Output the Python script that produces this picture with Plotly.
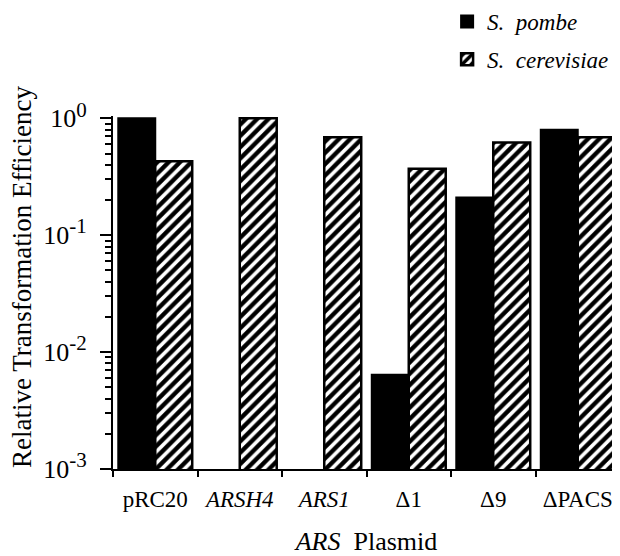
import plotly.graph_objects as go

categories = ["pRC20", "<i>ARSH4</i>", "<i>ARS1</i>", "Δ1", "Δ9", "ΔPACS"]
s_pombe = [1.0, None, None, 0.0064, 0.21, 0.80]
s_cerevisiae = [0.43, 1.0, 0.69, 0.37, 0.62, 0.69]
ytick_vals = [1e-3, 1e-2, 1e-1, 1]
ytick_exp = ["-3", "-2", "-1", "0"]
ytick_text = ["10<sup><span style='font-size:21px'>%s</span></sup>" % e for e in ytick_exp]

FONT = "Liberation Serif"

fig = go.Figure()
fig.add_trace(go.Bar(
    x=categories, y=s_pombe, name="<i>S.&nbsp; pombe</i>",
    legendgroup="a",
    marker=dict(color="black", line=dict(color="black", width=2)),
))
fig.add_trace(go.Bar(
    x=categories, y=s_cerevisiae, name="<i>S.&nbsp; cerevisiae</i>",
    legendgroup="b",
    marker=dict(color="white", line=dict(color="black", width=2.5),
                pattern=dict(shape="/", fgcolor="black", bgcolor="white",
                             size=8, solidity=0.55, fillmode="replace")),
))

minor_vals = [k * 10 ** e for e in (-3, -2, -1) for k in range(2, 10)]

fig.update_layout(
    width=612, height=548,
    margin=dict(l=105, r=0, t=108, b=87, autoexpand=False),
    paper_bgcolor="white", plot_bgcolor="white",
    barmode="group", bargap=0.125, bargroupgap=0,
    font=dict(family=FONT, color="black", size=24),
    showlegend=True,
    legend=dict(x=0.659, y=1.3286, xanchor="left", yanchor="top",
                bgcolor="rgba(0,0,0,0)", font=dict(size=23),
                traceorder="grouped", tracegroupgap=5),
    xaxis=dict(
        type="category", tickson="boundaries", ticks="outside",
        ticklen=6, tickwidth=2, tickcolor="black",
        showline=True, linewidth=2, linecolor="black",
        showgrid=False, zeroline=False,
        tickfont=dict(size=23), ticklabelstandoff=8,
        title=dict(text="<i>ARS</i>&nbsp; Plasmid", font=dict(size=26), standoff=30),
    ),
    yaxis=dict(
        type="log", range=[-3, 0.02],
        tickmode="array", tickvals=ytick_vals, ticktext=ytick_text,
        ticks="outside", ticklen=11, tickwidth=2, tickcolor="black",
        minor=dict(tickmode="array", tickvals=minor_vals, ticks="outside",
                   ticklen=6, tickwidth=1.5, tickcolor="black", showgrid=False),
        showline=True, linewidth=2, linecolor="black",
        showgrid=False, zeroline=False,
        tickfont=dict(size=26), ticklabelstandoff=8,
    ),
    annotations=[dict(
        text="Relative Transformation Efficiency", textangle=-90,
        xref="paper", yref="paper", x=-0.1795, y=0.544,
        xanchor="center", yanchor="middle", showarrow=False,
        font=dict(size=27),
    )],
)

fig.write_html("out.html")
